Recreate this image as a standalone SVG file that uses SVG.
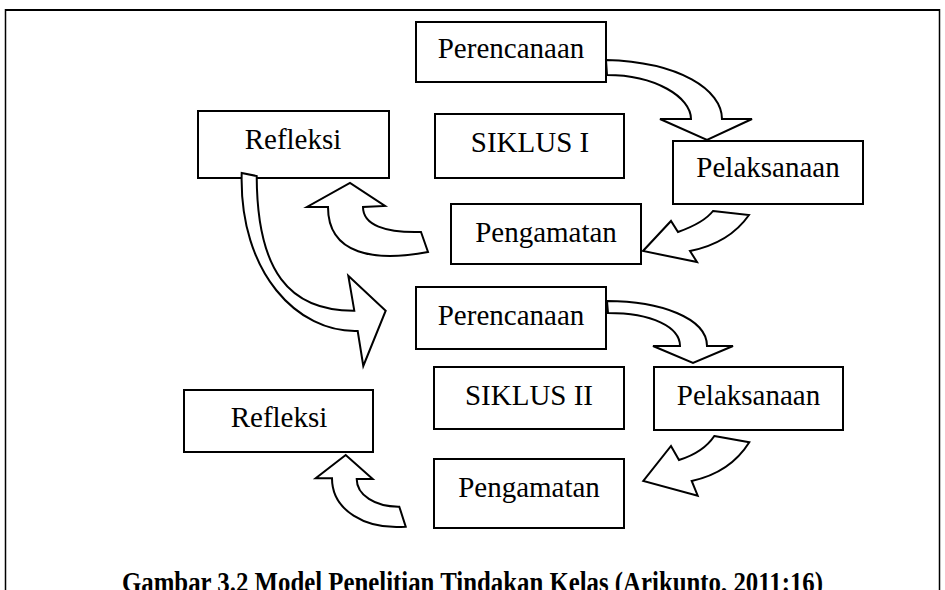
<svg xmlns="http://www.w3.org/2000/svg" width="945" height="590" viewBox="0 0 945 590">
<style>
.box{fill:#fff;stroke:#000;stroke-width:2}
.lbl{font-family:"Liberation Serif","Times New Roman",serif;font-size:29px;fill:#000;text-anchor:middle}
.arr{fill:#fff;stroke:#000;stroke-width:2;stroke-linejoin:miter}
.cap{font-family:"Liberation Serif","Times New Roman",serif;font-size:29px;font-weight:bold;fill:#000;text-anchor:middle}
</style>
<rect width="945" height="590" fill="#fff"/>
<g id="frame">
<line x1="5" y1="10" x2="940" y2="10" stroke="#000" stroke-width="2"/>
<line x1="5.5" y1="9" x2="5.5" y2="590" stroke="#000" stroke-width="1.5"/>
<line x1="939.5" y1="9" x2="939.5" y2="590" stroke="#000" stroke-width="1.5"/>
</g>
<g id="perencanaan1"><rect class="box" x="416" y="22" width="190" height="60"/><text class="lbl" x="511" y="58">Perencanaan</text></g>
<g id="refleksi1"><rect class="box" x="198" y="111" width="191" height="67"/><text class="lbl" x="293" y="149">Refleksi</text></g>
<g id="siklus1"><rect class="box" x="435" y="114" width="189" height="64"/><text class="lbl" x="530" y="152">SIKLUS I</text></g>
<g id="pelaksanaan1"><rect class="box" x="673" y="141" width="190" height="63"/><text class="lbl" x="768" y="177">Pelaksanaan</text></g>
<g id="pengamatan1"><rect class="box" x="451" y="204" width="190" height="60"/><text class="lbl" x="546" y="242">Pengamatan</text></g>
<g id="perencanaan2"><rect class="box" x="416" y="287" width="190" height="62"/><text class="lbl" x="511" y="325">Perencanaan</text></g>
<g id="siklus2"><rect class="box" x="434" y="367" width="190" height="62"/><text class="lbl" x="529" y="405">SIKLUS II</text></g>
<g id="pelaksanaan2"><rect class="box" x="654" y="367" width="189" height="63"/><text class="lbl" x="748.5" y="405">Pelaksanaan</text></g>
<g id="refleksi2"><rect class="box" x="184" y="390" width="189" height="62"/><text class="lbl" x="279" y="427">Refleksi</text></g>
<g id="pengamatan2"><rect class="box" x="434" y="459" width="190" height="69"/><text class="lbl" x="529" y="497">Pengamatan</text></g>
<g id="connectors">
<path class="arr" d="M606,60 C680,62 722,90 722,119 L752,119 L707,140 L660,119 L691,119 C691,97 655,75 607,75 Z"/>
<path class="arr" d="M713,211 L749,215 C735,235 715,246 690,251 L697,262 L643,251 L671,221 L678,232 C692,227 706,220 713,211 Z"/>
<path class="arr" d="M421,232 L428,252 C375,262 328,255 328,207 L307,207 L350,183 L385,206 L363,207 C363,225 385,233 421,232 Z"/>
<path class="arr" d="M241.7,173 C239,273 298,333 357.7,331 L363.3,366 L385.7,310.7 L348.3,275.7 L354.3,310.7 C289,311 257,271 256.7,176 Z"/>
<path class="arr" d="M607,301 C660,301 707,318 707,346 L733,346 L693,363 L653,346 L680,346 C680,327 652,313 608,313 Z"/>
<path class="arr" d="M714.3,436 L749.3,442.3 C735,465 715,476 691.7,481 L697.7,495.7 L643.3,481 L671,446 L679,460 C695,455 707,447 714.3,436 Z"/>
<path class="arr" d="M399.3,506.7 L405.7,526.7 C365,530 332,510 332,478.3 L315.7,478.3 L345.7,455 L372.7,479 L356.7,479 C356.7,495 375,507 399.3,506.7 Z"/>
</g>
<text class="cap" x="472.5" y="592" textLength="701" lengthAdjust="spacingAndGlyphs">Gambar 3.2 Model Penelitian Tindakan Kelas (Arikunto, 2011:16)</text>
</svg>
